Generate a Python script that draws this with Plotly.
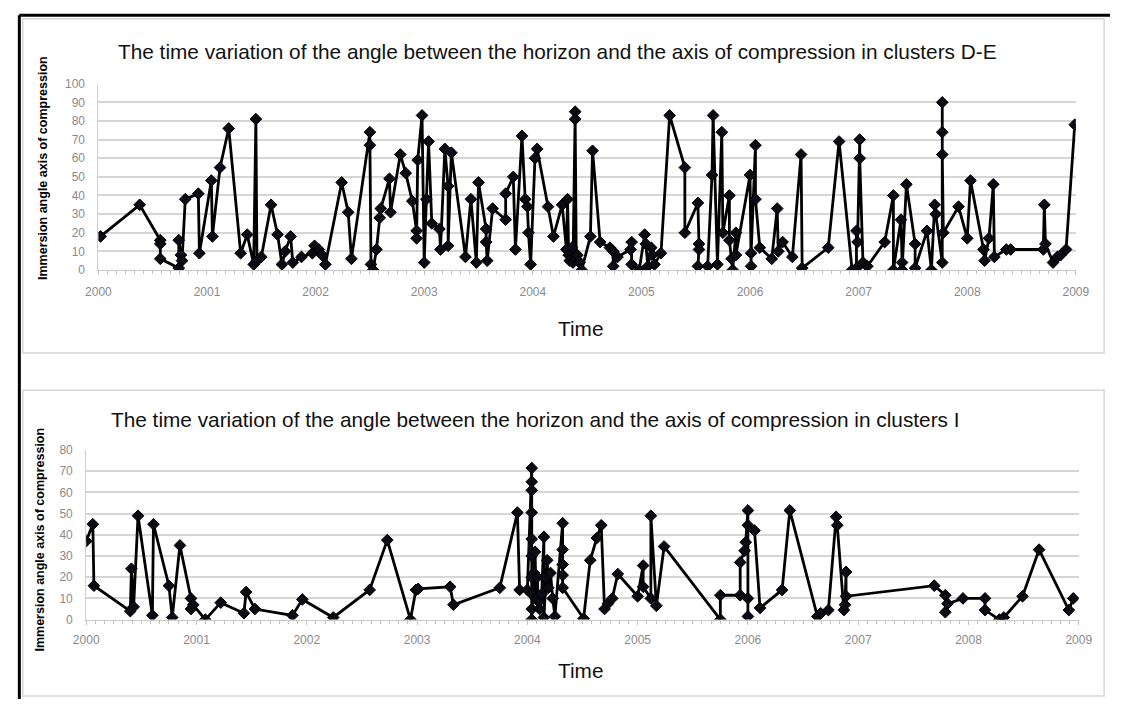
import plotly.graph_objects as go

# ---- Cluster D-E: angle between horizon and compression axis (degrees) ----
de_time = [
    2000.02, 2000.38, 2000.57, 2000.57, 2000.57, 2000.74, 2000.74, 2000.76, 2000.77, 2000.80,
    2000.92, 2000.93, 2001.04, 2001.05, 2001.12, 2001.20, 2001.31, 2001.37, 2001.43, 2001.45,
    2001.46, 2001.50, 2001.59, 2001.65, 2001.69, 2001.72, 2001.77, 2001.79, 2001.87, 2001.97,
    2001.99, 2002.03, 2002.06, 2002.09, 2002.24, 2002.30, 2002.33, 2002.50, 2002.50, 2002.51,
    2002.53, 2002.56, 2002.59, 2002.60, 2002.68, 2002.69, 2002.78, 2002.83, 2002.89, 2002.93,
    2002.93, 2002.94, 2002.98, 2003.00, 2003.02, 2003.04, 2003.07, 2003.14, 2003.15, 2003.19,
    2003.22, 2003.22, 2003.25, 2003.38, 2003.43, 2003.48, 2003.50, 2003.57, 2003.57, 2003.58,
    2003.63, 2003.75, 2003.75, 2003.82, 2003.84, 2003.90, 2003.93, 2003.95, 2003.96, 2003.98,
    2004.02, 2004.04, 2004.14, 2004.19, 2004.27, 2004.31, 2004.32, 2004.33, 2004.34, 2004.36,
    2004.37, 2004.39, 2004.39, 2004.40, 2004.41, 2004.43, 2004.45, 2004.53, 2004.55, 2004.62,
    2004.71, 2004.74, 2004.74, 2004.78, 2004.90, 2004.91, 2004.91, 2004.98, 2005.03, 2005.04,
    2005.06, 2005.09, 2005.10, 2005.12, 2005.18, 2005.26, 2005.40, 2005.40, 2005.52, 2005.53,
    2005.53, 2005.52, 2005.61, 2005.65, 2005.66, 2005.70, 2005.74, 2005.75, 2005.81, 2005.81,
    2005.83, 2005.84, 2005.87, 2005.87, 2006.00, 2006.01, 2006.01, 2006.05, 2006.05, 2006.09,
    2006.20, 2006.25, 2006.26, 2006.30, 2006.39, 2006.47, 2006.48, 2006.72, 2006.82, 2006.94,
    2006.98, 2006.98, 2006.99, 2007.01, 2007.01, 2007.04, 2007.08, 2007.24, 2007.32, 2007.32,
    2007.39, 2007.40, 2007.40, 2007.44, 2007.52, 2007.52, 2007.63, 2007.67, 2007.70, 2007.71,
    2007.77, 2007.77, 2007.77, 2007.77, 2007.78, 2007.92, 2008.00, 2008.03, 2008.15, 2008.16,
    2008.20, 2008.24, 2008.25, 2008.36, 2008.40, 2008.70, 2008.71, 2008.72, 2008.79, 2008.83,
    2008.86, 2008.91, 2008.99,
]
de_angle = [
    18, 35, 16, 14, 6, 1, 16, 8, 5, 38,
    41, 9, 48, 18, 55, 76, 9, 19, 3, 81,
    5, 7, 35, 19, 3, 10, 18, 4, 7, 9,
    13, 11, 8, 3, 47, 31, 6, 74, 67, 3,
    0, 11, 28, 33, 49, 31, 62, 52, 37, 21,
    17, 59, 83, 4, 38, 69, 25, 22, 11, 65,
    45, 13, 63, 7, 38, 4, 47, 22, 15, 5,
    33, 27, 41, 50, 11, 72, 38, 34, 20, 3,
    60, 65, 34, 18, 35, 11, 38, 8, 5, 12,
    4, 85, 81, 6, 8, 4, 0, 18, 64, 15,
    12, 10, 2, 7, 11, 15, 3, 0, 19, 14,
    2, 12, 8, 3, 9, 83, 55, 20, 36, 14,
    11, 2, 2, 51, 83, 3, 74, 20, 40, 16,
    6, 0, 20, 8, 51, 2, 9, 67, 38, 12,
    6, 33, 10, 15, 7, 62, 1, 12, 69, 0,
    1, 21, 15, 70, 60, 4, 2, 15, 40, 0,
    27, 4, 0, 46, 14, 1, 21, 0, 35, 30,
    4, 90, 74, 62, 20, 34, 17, 48, 11, 5,
    17, 46, 7, 11, 11, 11, 35, 14, 4, 7,
    8, 11, 78,
]

# ---- Cluster I ----
i_time = [
    2000.00, 2000.06, 2000.07, 2000.40, 2000.41, 2000.43, 2000.47, 2000.60, 2000.61, 2000.75,
    2000.78, 2000.85, 2000.95, 2000.95, 2000.97, 2001.08, 2001.22, 2001.43, 2001.45, 2001.53,
    2001.87, 2001.96, 2002.24, 2002.57, 2002.73, 2002.94, 2002.99, 2003.01, 2003.30, 2003.33,
    2003.75, 2003.91, 2003.93, 2004.00, 2004.04, 2004.04, 2004.04, 2004.04, 2004.04, 2004.04,
    2004.04, 2004.04, 2004.04, 2004.04, 2004.06, 2004.07, 2004.08, 2004.09, 2004.10, 2004.11,
    2004.13, 2004.15, 2004.15, 2004.17, 2004.18, 2004.19, 2004.21, 2004.23, 2004.25, 2004.32,
    2004.32, 2004.32, 2004.32, 2004.32, 2004.51, 2004.57, 2004.63, 2004.67, 2004.70, 2004.73,
    2004.77, 2004.82, 2005.00, 2005.05, 2005.05, 2005.12, 2005.12, 2005.17, 2005.24, 2005.75,
    2005.75, 2005.93, 2005.93, 2005.97, 2005.98, 2006.00, 2006.00, 2006.00, 2006.00, 2006.06,
    2006.11, 2006.31, 2006.38, 2006.63, 2006.66, 2006.73, 2006.80, 2006.81, 2006.87, 2006.88,
    2006.89, 2006.89, 2007.69, 2007.79, 2007.79, 2007.81, 2007.95, 2008.15, 2008.15, 2008.28,
    2008.32, 2008.49, 2008.64, 2008.91, 2008.95,
]
i_angle = [
    37, 45, 16, 4, 24, 6, 49, 2, 45, 16,
    1, 35, 10, 5, 7, 0, 8, 3, 13, 5,
    2, 9.5, 1, 14, 37.5, 0, 14, 14.5, 15.5, 7,
    15, 50.5, 14, 14, 71.5, 65, 61, 50.5, 38, 30,
    20, 12, 5, 0, 22, 32, 10, 20, 8.5, 5,
    12, 39, 1, 20, 28, 15, 22, 10, 1.5, 45.5,
    33, 26, 21, 15, 0.5, 28, 38.5, 44.5, 5, 7.5,
    10, 21.5, 11, 25.5, 15.5, 10, 49, 6.5, 34.5, 0,
    11.5, 11.5, 27, 32.5, 36.5, 51.5, 1.5, 10, 44.5, 42,
    5.5, 14, 51.5, 1.5, 3, 4.5, 48.5, 44.5, 4.5, 7,
    22.5, 11, 16, 11.5, 3.5, 7.5, 10, 10, 4.5, 0,
    1, 11, 33, 4.5, 10,
]

year_ticks = list(range(2000, 2010))
title_de = "The time variation of the angle between the horizon and the axis of compression in clusters D-E"
title_i = "The time variation of the angle between the horizon and the axis of compression in clusters I"
y_title = "Immersion angle axis of compression"
x_title = "Time"

W, H = 1124, 706
FONT = "Liberation Sans, Arial, sans-serif"
GRID = "#d6d6d6"
TICKFONT = dict(family=FONT, size=12, color="#8a8a8a")


def px(x):
    return x / W


def py(y):
    return 1 - y / H


def series(x, y, xa, ya):
    return go.Scatter(
        x=x, y=y, xaxis=xa, yaxis=ya, mode="lines+markers",
        line=dict(color="#000000", width=2.8),
        marker=dict(symbol="diamond", size=9, color="#0b0b14",
                    line=dict(color="#000000", width=1)),
        showlegend=False, hoverinfo="x+y",
    )


fig = go.Figure()
fig.add_trace(series(de_time, de_angle, "x", "y"))
fig.add_trace(series(i_time, i_angle, "x2", "y2"))


def xaxis(domain, anchor, standoff):
    return dict(
        domain=domain, anchor=anchor, range=[2000, 2009],
        tickmode="array", tickvals=year_ticks, ticktext=[str(t) for t in year_ticks],
        tickfont=TICKFONT, ticks="outside", ticklen=4, tickcolor="#c0c0c0",
        ticklabelstandoff=standoff,
        minor=dict(dtick=1 / 12, tick0=2000, ticks="outside", ticklen=3, tickcolor="#c0c0c0"),
        showline=True, linecolor="#c8c8c8", linewidth=1,
        showgrid=False, zeroline=False, fixedrange=True,
    )


def yaxis(domain, anchor, top):
    return dict(
        domain=domain, anchor=anchor, range=[0, top], dtick=10, tick0=0,
        tickfont=TICKFONT, ticks="", ticklabelstandoff=10,
        showline=True, linecolor="#d0d0d0", linewidth=1,
        showgrid=True, gridcolor=GRID, gridwidth=1.8,
        zeroline=False, fixedrange=True,
    )


fig.update_layout(
    width=W, height=H,
    margin=dict(l=0, r=0, t=0, b=0),
    paper_bgcolor="white", plot_bgcolor="white",
    font=dict(family=FONT),
    xaxis=xaxis([px(87.5), px(1089)], "y", 7),
    yaxis=yaxis([py(268.3), py(78.3)], "x", 100),
    xaxis2=xaxis([px(75), px(1092)], "y2", 5),
    yaxis2=yaxis([py(625), py(452)], "x2", 80),
)

# panel frames and outer border
fig.add_shape(type="rect", xref="paper", yref="paper",
              x0=px(10), x1=px(1118), y0=py(353), y1=py(12),
              line=dict(color="#d6d6d6", width=1.5), layer="below")
fig.add_shape(type="rect", xref="paper", yref="paper",
              x0=px(10), x1=px(1118), y0=py(703), y1=py(391),
              line=dict(color="#d6d6d6", width=1.5), layer="below")
fig.add_shape(type="line", xref="paper", yref="paper",
              x0=px(6.5), x1=1, y0=py(8.5), y1=py(8.5),
              line=dict(color="#000000", width=3))
fig.add_shape(type="line", xref="paper", yref="paper",
              x0=px(6.5), x1=px(6.5), y0=0, y1=py(8.5),
              line=dict(color="#000000", width=3))

TITLE_FONT = dict(family=FONT, size=20.8, color="#111111")
YT_FONT = dict(family=FONT, size=12.5, color="#000000")

ann = [
    dict(text=title_de, x=px(558), y=py(45), font=TITLE_FONT),
    dict(text=title_i, x=px(535), y=py(421), font=TITLE_FONT),
    dict(text=x_title, x=px(581), y=py(328), font=TITLE_FONT),
    dict(text=x_title, x=px(581), y=py(677), font=TITLE_FONT),
    dict(text="<b>" + y_title + "</b>", x=px(30), y=py(164), textangle=-90, font=YT_FONT),
    dict(text="<b>" + y_title + "</b>", x=px(28), y=py(543), textangle=-90, font=YT_FONT),
]
for a in ann:
    fig.add_annotation(xref="paper", yref="paper", showarrow=False,
                       xanchor="center", yanchor="middle", **a)

fig.write_html("out.html")
